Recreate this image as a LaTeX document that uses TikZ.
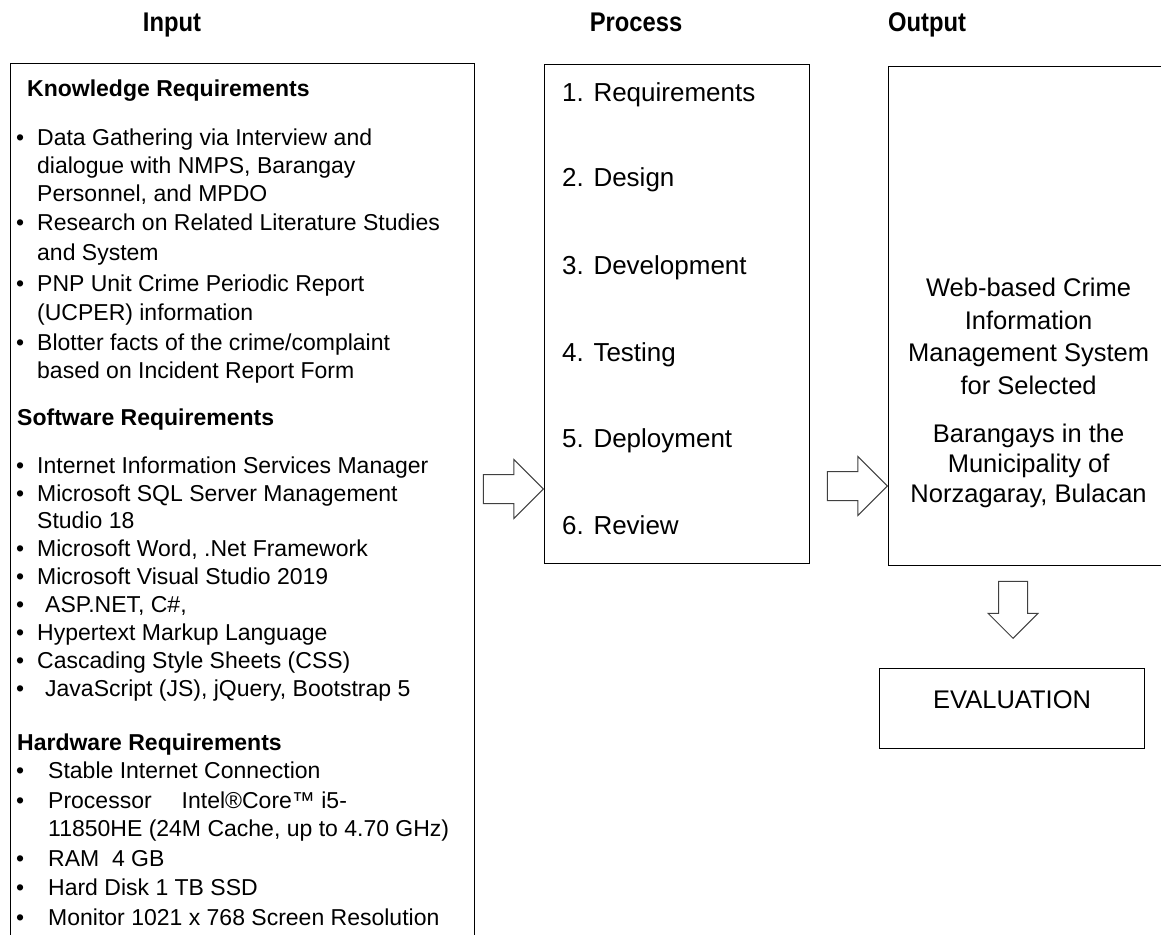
\documentclass[tikz,border=0pt]{standalone}
\usepackage{fontspec}
\setmainfont{Liberation Sans}
\usepackage{graphicx}
\usetikzlibrary{shapes.arrows}

\newcommand{\ibul}[1]{\llap{\makebox[0pt][c]{\textbullet}\hspace{#1}}}

\begin{document}
\begin{tikzpicture}[x=1pt, y=-1pt,
    box/.style={draw, line width=1.2pt, inner sep=0pt},
    head/.style={font=\fontsize{27}{27}\selectfont\bfseries, anchor=base, inner sep=0pt},
    sub/.style={font=\fontsize{23}{28}\selectfont\bfseries, anchor=base west, inner sep=0pt},
    itm/.style={font=\fontsize{23}{28}\selectfont, anchor=base west, align=left, inner sep=0pt},
    phase/.style={font=\fontsize{26}{30}\selectfont, anchor=base west, inner sep=0pt},
    res/.style={font=\fontsize{25.5}{32.5}\selectfont, align=center, anchor=base, inner sep=0pt},
    blockarr/.style={shape=single arrow, draw=black!75, fill=white, line width=1pt,
        inner sep=14pt, minimum width=0pt, minimum height=60pt,
        single arrow head extend=15pt, single arrow tip angle=90}]
    \path[use as bounding box, clip] (0,0) rectangle (1161,934);

    % column titles
    \node[head] (inhead) at (172,32) {\scalebox{0.88}[1]{Input}};
    \node[head] (prhead) at (636,32) {\scalebox{0.88}[1]{Process}};
    \node[head] (outhead) at (927,32) {\scalebox{0.88}[1]{Output}};

    % boxes
    \node[box, anchor=north west, minimum width=464pt, minimum height=900pt] (inbox) at (10,63) {};
    \node[box, anchor=north west, minimum width=265pt, minimum height=499pt] (proc) at (544,64) {};
    \node[box, anchor=north west, minimum width=280pt, minimum height=499pt] (outbox) at (888,66) {};
    \node[box, anchor=north west, minimum width=265pt, minimum height=80pt] (eval) at (879,668) {};

    % input (multi-line items sit on their last baseline)
    \node[sub] (know) at (27,96) {Knowledge Requirements};
    \node[itm] (k1) at (37,201) {\ibul{17pt}Data Gathering via Interview and\\dialogue with NMPS, Barangay\\Personnel, and MPDO};
    \node[itm, font=\fontsize{23}{30}\selectfont] (k2) at (37,260) {\ibul{17pt}Research on Related Literature Studies\\and System};
    \node[itm, font=\fontsize{23}{29}\selectfont] (k3) at (37,320) {\ibul{17pt}PNP Unit Crime Periodic Report\\(UCPER) information};
    \node[itm] (k4) at (37,378) {\ibul{17pt}Blotter facts of the crime/complaint\\based on Incident Report Form};

    \node[sub] (soft) at (17,425) {Software Requirements};
    \node[itm] (s1) at (37,473) {\ibul{17pt}Internet Information Services Manager};
    \node[itm, font=\fontsize{23}{27.5}\selectfont] (s2) at (37,528.5) {\ibul{17pt}Microsoft SQL Server Management\\Studio 18};
    \node[itm] (s3) at (37,556) {\ibul{17pt}Microsoft Word, .Net Framework};
    \node[itm] (s4) at (37,584) {\ibul{17pt}Microsoft Visual Studio 2019};
    \node[itm] (s5) at (45,612) {\ibul{25pt}ASP.NET, C\#,};
    \node[itm] (s6) at (37,640) {\ibul{17pt}Hypertext Markup Language};
    \node[itm] (s7) at (37,668) {\ibul{17pt}Cascading Style Sheets (CSS)};
    \node[itm] (s8) at (45,696) {\ibul{25pt}JavaScript (JS), jQuery, Bootstrap 5};

    \node[sub] (hard) at (17,750) {Hardware Requirements};
    \node[itm] (h1) at (48,778) {\ibul{28pt}Stable Internet Connection};
    \node[itm] (h2) at (48,836) {\ibul{28pt}Processor\hspace{30pt}Intel®Core™ i5-\\11850HE (24M Cache, up to 4.70 GHz)};
    \node[itm] (h3) at (48,866) {\ibul{28pt}RAM\ \ 4 GB};
    \node[itm] (h4) at (48,895) {\ibul{28pt}Hard Disk 1 TB SSD};
    \node[itm] (h5) at (48,925) {\ibul{28pt}Monitor 1021 x 768 Screen Resolution};

    % process
    \node[phase] (p1) at (562,101) {1. Requirements};
    \node[phase] (p2) at (562,186) {2. Design};
    \node[phase] (p3) at (562,274) {3. Development};
    \node[phase] (p4) at (562,361) {4. Testing};
    \node[phase] (p5) at (562,447) {5. Deployment};
    \node[phase] (p6) at (562,534) {6. Review};

    % output
    \node[res] (r1) at (outbox.center |- 0,394) {Web-based Crime\\Information\\Management System\\for Selected};
    \node[res, font=\fontsize{25.5}{30}\selectfont] (r2) at (outbox.center |- 0,502) {Barangays in the\\Municipality of\\Norzagaray, Bulacan};
    \node[font=\fontsize{25.5}{30}\selectfont, inner sep=0pt] (evtext) at ([yshift=9pt]eval.center) {EVALUATION};

    % arrows
    \node[blockarr, anchor=tip] (arr1) at (proc.west |- 0,489) {};
    \node[blockarr, anchor=tip] (arr2) at (outbox.west |- 0,486) {};
    \node[blockarr, shape border rotate=270, minimum height=57pt,
        single arrow head extend=10.5pt, anchor=tip] (arr3) at (1013,639) {};
\end{tikzpicture}
\end{document}
